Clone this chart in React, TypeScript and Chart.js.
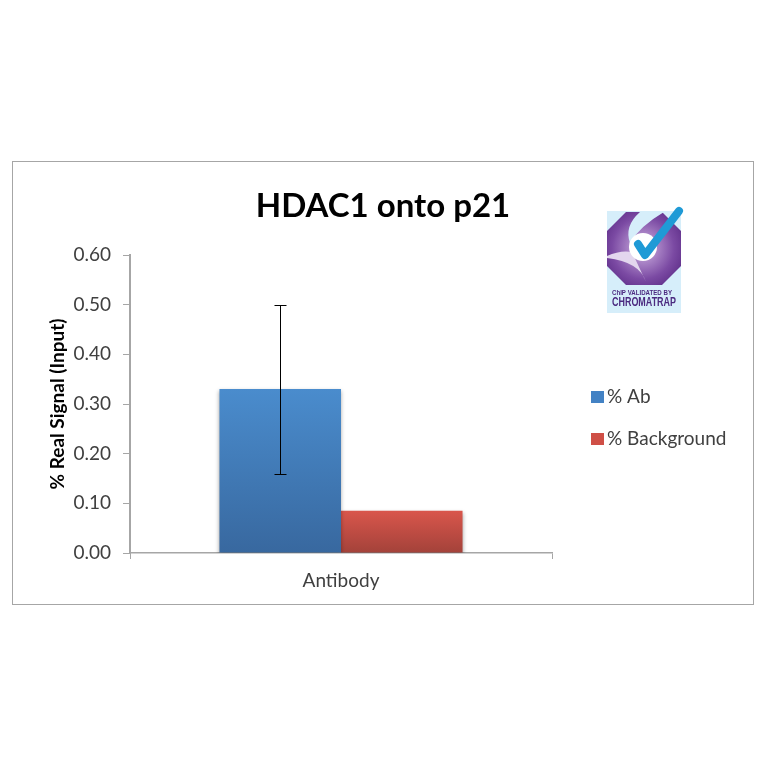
import { useEffect, useRef } from "react"
import { Chart, registerables } from "chart.js"

Chart.register(...registerables)

const categories = ["Antibody"]
const abValues = [0.33]
const backgroundValues = [0.085]
const abErrorLow = [0.16]
const abErrorHigh = [0.5]
const yTicks = [0, 0.1, 0.2, 0.3, 0.4, 0.5, 0.6]

const FONT = "Lato, 'Open Sans', sans-serif"
const BADGE_FONT = "'Liberation Sans', sans-serif"
const BLUE = ["#4a8ccd", "#38689f"]
const RED = ["#d9564c", "#a3423a"]
const TEXT = "#404040"

function barFill(stops: string[]) {
  return (ctx: any) => {
    const area = ctx.chart.chartArea
    if (!area) return stops[0]
    const top = ctx.chart.scales.y.getPixelForValue(ctx.raw)
    const bottom = ctx.chart.scales.y.getPixelForValue(0)
    const g = ctx.chart.ctx.createLinearGradient(0, top, 0, bottom)
    g.addColorStop(0, stops[0])
    g.addColorStop(1, stops[1])
    return g
  }
}

// Frame around the picture, drawn first so the chart sits on top
const framePlugin = {
  id: "frame",
  beforeDraw(chart: any) {
    const { ctx } = chart
    ctx.save()
    ctx.fillStyle = "#ffffff"
    ctx.fillRect(0, 0, 764, 764)
    ctx.strokeStyle = "#a6a6a6"
    ctx.lineWidth = 1
    ctx.strokeRect(12.5, 161.5, 741, 443)
    ctx.restore()
  },
  afterLayout(chart: any) {
    // title is centred on the frame, not on the plot
    chart.titleBlock.left = 12
    chart.titleBlock.right = 754
  },
}

const barShadowPlugin = {
  id: "barShadow",
  beforeDatasetDraw(chart: any) {
    chart.ctx.save()
    chart.ctx.shadowColor = "rgba(0,0,0,0.35)"
    chart.ctx.shadowBlur = 4
    chart.ctx.shadowOffsetY = 2
  },
  afterDatasetDraw(chart: any) {
    chart.ctx.restore()
  },
}

// Error bar on the % Ab series
const errorBarPlugin = {
  id: "errorBar",
  afterDatasetsDraw(chart: any) {
    const { ctx, scales } = chart
    const meta = chart.getDatasetMeta(0)
    ctx.save()
    ctx.strokeStyle = "#000000"
    ctx.lineWidth = 1
    meta.data.forEach((bar: any, i: number) => {
      const x = Math.round(bar.x) + 0.5
      const lo = Math.round(scales.y.getPixelForValue(abErrorLow[i])) + 0.5
      const hi = Math.round(scales.y.getPixelForValue(abErrorHigh[i])) + 0.5
      ctx.beginPath()
      ctx.moveTo(x, lo)
      ctx.lineTo(x, hi)
      ctx.moveTo(x - 6, lo)
      ctx.lineTo(x + 6, lo)
      ctx.moveTo(x - 6, hi)
      ctx.lineTo(x + 6, hi)
      ctx.stroke()
    })
    ctx.restore()
  },
}

// Legend sits lower right, away from the plot, so it is placed by hand
const legendPlugin = {
  id: "sideLegend",
  afterDraw(chart: any) {
    const { ctx } = chart
    const rows = [397, 439]
    ctx.save()
    ctx.font = `19px ${FONT}`
    ctx.textBaseline = "middle"
    chart.data.datasets.forEach((ds: any, i: number) => {
      ctx.fillStyle = i === 0 ? "#4382c4" : "#cf4f46"
      ctx.fillRect(591, rows[i] - 6, 13, 12)
      ctx.fillStyle = TEXT
      ctx.fillText(ds.label, 607, rows[i])
    })
    ctx.restore()
  },
}

// ChIP validated badge
const badgePlugin = {
  id: "badge",
  afterDraw(chart: any) {
    const { ctx } = chart
    ctx.save()
    ctx.fillStyle = "#d6eefa"
    ctx.fillRect(607, 211, 74, 102)

    const oct = [
      [626, 212],
      [662, 212],
      [681, 231],
      [681, 266],
      [662, 285],
      [626, 285],
      [607, 266],
      [607, 231],
    ]
    const g = ctx.createRadialGradient(643, 248, 12, 643, 248, 50)
    g.addColorStop(0, "#b08ccb")
    g.addColorStop(0.5, "#7b4aa3")
    g.addColorStop(1, "#552580")
    ctx.fillStyle = g
    ctx.beginPath()
    oct.forEach(([x, y], i) => (i ? ctx.lineTo(x, y) : ctx.moveTo(x, y)))
    ctx.closePath()
    ctx.fill()

    // light swirl wedges
    ctx.fillStyle = "#d6eefa"
    ctx.beginPath()
    ctx.moveTo(640, 212)
    ctx.quadraticCurveTo(624, 226, 630, 243)
    ctx.quadraticCurveTo(640, 226, 664, 212)
    ctx.closePath()
    ctx.fill()
    ctx.fillStyle = "#e3d6ee"
    ctx.beginPath()
    ctx.moveTo(607, 256)
    ctx.quadraticCurveTo(620, 250, 632, 252)
    ctx.lineTo(646, 282)
    ctx.quadraticCurveTo(640, 262, 607, 258)
    ctx.closePath()
    ctx.fill()

    ctx.fillStyle = "#ffffff"
    ctx.beginPath()
    ctx.arc(643, 247, 14, 0, Math.PI * 2)
    ctx.fill()

    ctx.strokeStyle = "#1f9ad6"
    ctx.lineWidth = 8
    ctx.lineCap = "round"
    ctx.lineJoin = "round"
    ctx.beginPath()
    ctx.moveTo(638, 244)
    ctx.lineTo(645, 255)
    ctx.lineTo(679, 211)
    ctx.stroke()

    // maxWidth squeezes the text to the badge's condensed look
    ctx.fillStyle = "#4b2a80"
    ctx.textAlign = "center"
    ctx.textBaseline = "middle"
    ctx.font = `bold 8px ${BADGE_FONT}`
    ctx.fillText("ChIP VALIDATED BY", 642, 293, 60)
    ctx.font = `bold 12px ${BADGE_FONT}`
    ctx.fillText("CHROMATRAP", 644, 303, 64)
    ctx.restore()
  },
}

export default function App() {
  const canvasRef = useRef<HTMLCanvasElement>(null)

  useEffect(() => {
    if (!canvasRef.current) return
    document.body.style.margin = "0"

    const chart = new Chart(canvasRef.current, {
      type: "bar",
      data: {
        labels: categories,
        datasets: [
          {
            label: "% Ab",
            data: abValues,
            backgroundColor: barFill(BLUE),
            categoryPercentage: 0.576,
            barPercentage: 1,
          },
          {
            label: "% Background",
            data: backgroundValues,
            backgroundColor: barFill(RED),
            categoryPercentage: 0.576,
            barPercentage: 1,
          },
        ],
      },
      plugins: [framePlugin, barShadowPlugin, errorBarPlugin, legendPlugin, badgePlugin],
      options: {
        responsive: false,
        animation: false,
        devicePixelRatio: 1,
        layout: { padding: { top: 188, right: 212, left: 0, bottom: 0 } },
        plugins: {
          legend: { display: false },
          tooltip: { enabled: false },
          title: {
            display: true,
            text: "HDAC1 onto p21",
            color: "#000000",
            font: { family: FONT, size: 33, weight: "bold", lineHeight: 36 / 33 },
            padding: { top: 0, bottom: 31 },
          },
        },
        scales: {
          x: {
            afterFit: (scale: any) => {
              scale.height = 211
            },
            border: { color: "#a6a6a6", width: 1.5 },
            grid: { offset: true, drawOnChartArea: false, drawTicks: true, tickLength: 6, color: "#a6a6a6" },
            ticks: { color: TEXT, font: { family: FONT, size: 19 }, padding: 10 },
          },
          y: {
            min: 0,
            max: 0.6,
            afterFit: (scale: any) => {
              scale.width = 130
            },
            afterBuildTicks: (scale: any) => {
              scale.ticks = yTicks.map((value) => ({ value }))
            },
            border: { color: "#a6a6a6", width: 2 },
            grid: { drawOnChartArea: false, drawTicks: true, tickLength: 7, color: "#a6a6a6" },
            ticks: {
              color: TEXT,
              font: { family: FONT, size: 19 },
              padding: 12,
              callback: (v: any) => Number(v).toFixed(2),
            },
            title: {
              display: true,
              text: "% Real Signal (Input)",
              color: "#000000",
              font: { family: FONT, size: 19, weight: "bold", lineHeight: 1.2 },
              padding: { top: 46, bottom: 0 },
            },
          },
        },
      },
    })

    return () => chart.destroy()
  }, [])

  return <canvas ref={canvasRef} width={764} height={764} style={{ display: "block" }} />
}
